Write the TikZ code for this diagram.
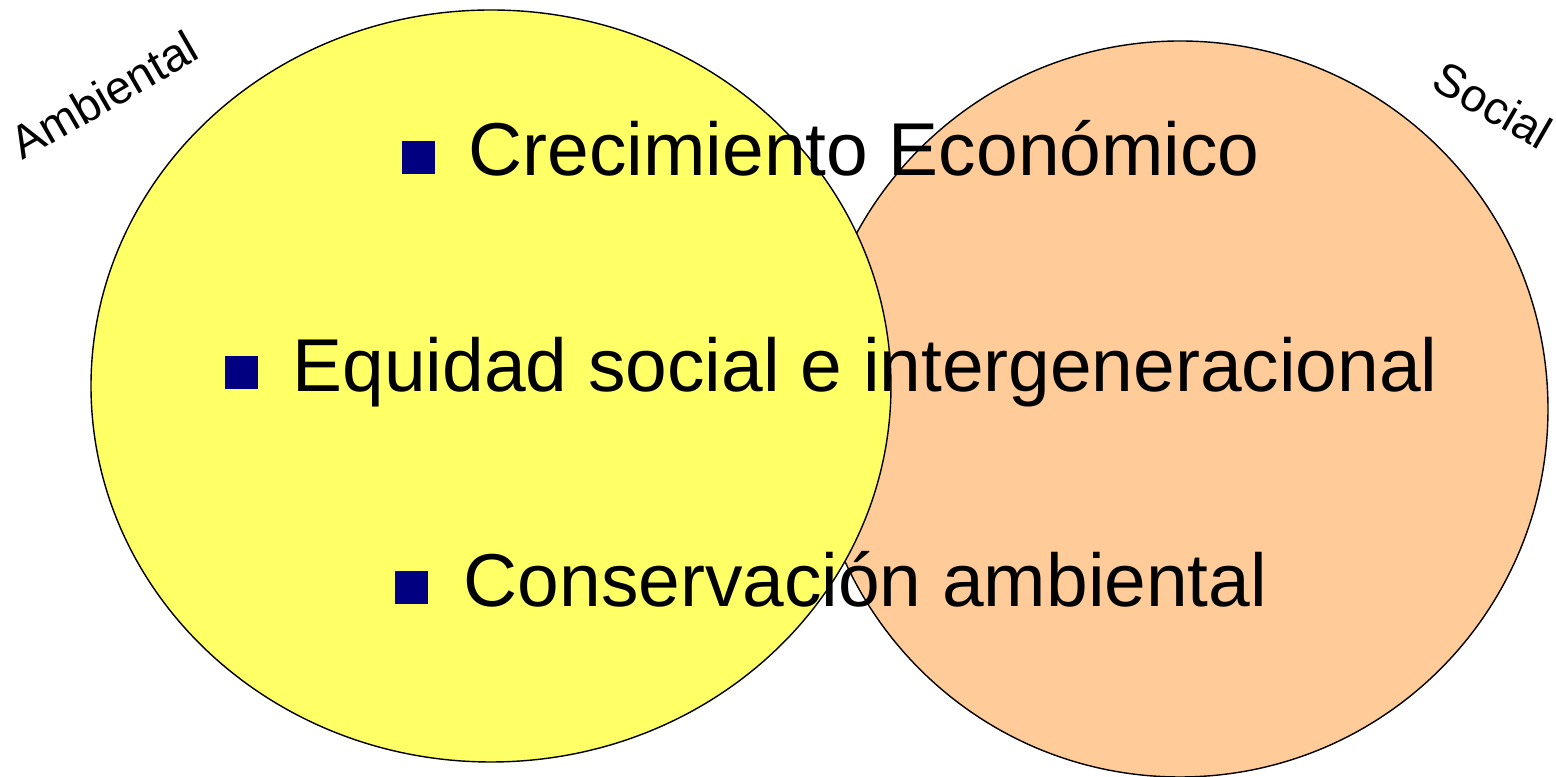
\documentclass[tikz,border=0pt]{standalone}
\usepackage{fontspec}
\setmainfont{Liberation Sans}
\definecolor{ambyellow}{HTML}{FFFF66}
\definecolor{socorange}{HTML}{FFCC99}
\definecolor{bulletblue}{HTML}{000080}
\begin{document}
\begin{tikzpicture}[x=0.01cm,y=-0.01cm,
  bullet/.style={fill=bulletblue,minimum size=0.33cm,inner sep=0pt},
  item/.style={anchor=base west,inner sep=0pt,font=\fontsize{21.3}{25}\selectfont},
  tag/.style={inner sep=0pt,font=\fontsize{13.2}{15}\selectfont}]
  \useasboundingbox (0,0) rectangle (1556,777);
  % the two circles
  \draw[fill=socorange] (1180,409) circle [radius=368];
  \draw[fill=ambyellow] (491,386) ellipse [x radius=400,y radius=376];
  \node[tag,rotate=30] (amb) at (104,95) {Ambiental};
  \node[tag,rotate=-30] (soc) at (1493,105) {Social};
  % the three items
  \node[bullet] (b1) at (418.5,157.5) {};
  \node[item] (t1) at (468,176) {Crecimiento Económico};
  \node[bullet] (b2) at (241.5,372.5) {};
  \node[item] (t2) at (292,392) {Equidad social e intergeneracional};
  \node[bullet] (b3) at (411.5,587.5) {};
  \node[item] (t3) at (463,607) {Conservación ambiental};
\end{tikzpicture}
\end{document}
